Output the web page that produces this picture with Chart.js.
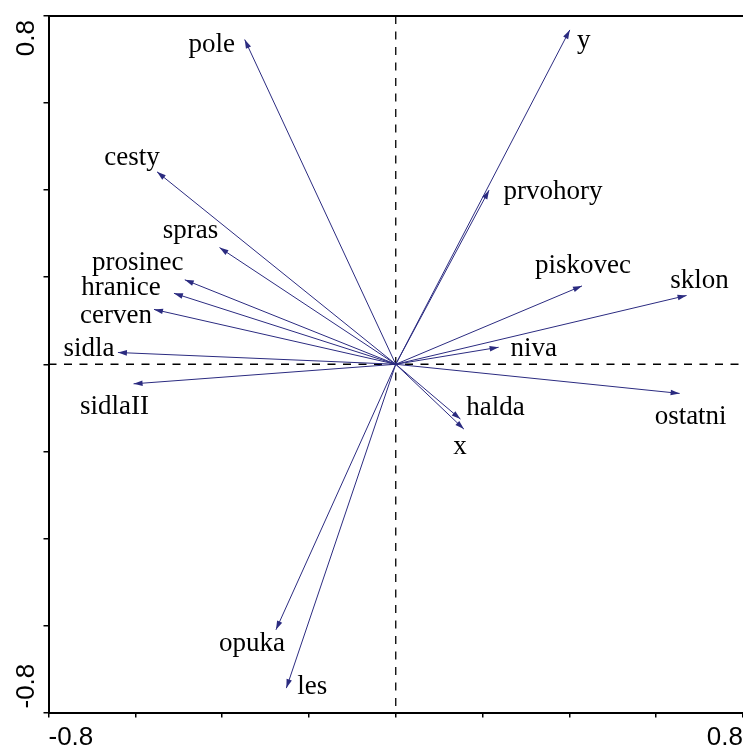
<!DOCTYPE html>
<html>
<head>
<meta charset="utf-8">
<script src="https://cdn.jsdelivr.net/npm/chart.js@4.4.0/dist/chart.umd.min.js"></script>
<style>
  html, body { margin: 0; padding: 0; background: #fff; }
  canvas { display: block; }
</style>
</head>
<body>
<canvas id="biplot" width="743" height="746"></canvas>
<script>
// variable names and their scores on the two ordination axes
const varNames = ['pole', 'cesty', 'spras', 'prosinec', 'hranice', 'cerven', 'sidla', 'sidlaII', 'opuka',
    'les', 'y', 'prvohory', 'piskovec', 'sklon', 'niva', 'ostatni', 'halda', 'x'];
const axis1 = [-0.348, -0.550, -0.406, -0.486, -0.511, -0.557, -0.640, -0.604, -0.276,
    -0.252, 0.401, 0.215, 0.429, 0.670, 0.237, 0.654, 0.149, 0.157];
const axis2 = [0.746, 0.442, 0.268, 0.194, 0.163, 0.126, 0.027, -0.045, -0.610,
    -0.744, 0.768, 0.400, 0.180, 0.158, 0.039, -0.067, -0.126, -0.149];
const tickValues = [-0.8, -0.6, -0.4, -0.2, 0, 0.2, 0.4, 0.6, 0.8];
const tickLabels = ['-0.8', '0.8']; // only the two ends carry a label

const arrowColor = '#2b2b80';

// where each name sits relative to its arrow tip (pixels)
const labelOffset = {
    pole: [-33, 5], cesty: [-25, -14], spras: [-29, -17], prosinec: [-47, -17],
    hranice: [-53, -5], cerven: [-38, 7], sidla: [-29, -4], sidlaII: [-19, 23],
    opuka: [-24, 14], les: [26, -1], y: [14, 11], prvohory: [64, 2],
    piskovec: [1, -20], sklon: [13, -15], niva: [35, 2], ostatni: [11, 23],
    halda: [35, -11], x: [-4, 18]
};

const datasets = varNames.map((name, i) => ({
    label: name,
    data: [{ x: 0, y: 0 }, { x: axis1[i], y: axis2[i] }],
    showLine: true,
    borderColor: arrowColor,
    borderWidth: 1,
    pointRadius: 0,
    fill: false
}));

const biplotDecor = {
    id: 'biplotDecor',
    beforeDatasetsDraw(chart) {
        const { ctx, chartArea, scales } = chart;
        const x0 = scales.x.getPixelForValue(0);
        const y0 = scales.y.getPixelForValue(0);
        ctx.save();
        ctx.strokeStyle = '#000';
        ctx.lineWidth = 1.3;
        ctx.setLineDash([8, 7.5]);
        ctx.beginPath();
        ctx.moveTo(chartArea.left, y0);
        ctx.lineTo(chartArea.right, y0);
        ctx.moveTo(x0, chartArea.top);
        ctx.lineTo(x0, chartArea.bottom);
        ctx.stroke();
        ctx.restore();
    },
    afterDatasetsDraw(chart) {
        const ctx = chart.ctx;
        ctx.save();
        chart.data.datasets.forEach((ds, i) => {
            const pts = chart.getDatasetMeta(i).data;
            const p0 = pts[0], p1 = pts[1];
            const ang = Math.atan2(p1.y - p0.y, p1.x - p0.x);
            // arrow head
            ctx.fillStyle = arrowColor;
            ctx.beginPath();
            ctx.moveTo(p1.x, p1.y);
            ctx.lineTo(p1.x - 9 * Math.cos(ang) + 2.8 * Math.sin(ang), p1.y - 9 * Math.sin(ang) - 2.8 * Math.cos(ang));
            ctx.lineTo(p1.x - 9 * Math.cos(ang) - 2.8 * Math.sin(ang), p1.y - 9 * Math.sin(ang) + 2.8 * Math.cos(ang));
            ctx.closePath();
            ctx.fill();
            // name
            const off = labelOffset[ds.label] || [0, 0];
            ctx.fillStyle = '#000';
            ctx.font = '27px "Liberation Serif", "Times New Roman", serif';
            ctx.textAlign = 'center';
            ctx.textBaseline = 'middle';
            ctx.fillText(ds.label, p1.x + off[0], p1.y + off[1]);
        });
        ctx.restore();
    },
    afterDraw(chart) {
        const { ctx, chartArea, scales } = chart;
        ctx.save();
        // top frame line
        ctx.strokeStyle = '#000';
        ctx.lineWidth = 2;
        ctx.beginPath();
        ctx.moveTo(chartArea.left, chartArea.top);
        ctx.lineTo(chartArea.right, chartArea.top);
        ctx.stroke();

        ctx.fillStyle = '#000';
        ctx.font = '26px "Liberation Sans", Arial, sans-serif';
        ctx.textBaseline = 'alphabetic';
        const first = tickValues[0], last = tickValues[tickValues.length - 1];
        // x axis end labels
        ctx.textAlign = 'left';
        ctx.fillText(tickLabels[0], scales.x.getPixelForValue(first), 745);
        ctx.textAlign = 'right';
        ctx.fillText(tickLabels[1], scales.x.getPixelForValue(last), 745);
        // y axis end labels, rotated
        ctx.save();
        ctx.translate(34, scales.y.getPixelForValue(first) - 4);
        ctx.rotate(-Math.PI / 2);
        ctx.textAlign = 'left';
        ctx.fillText(tickLabels[0], 0, 0);
        ctx.restore();
        ctx.save();
        ctx.translate(34, scales.y.getPixelForValue(last) + 4);
        ctx.rotate(-Math.PI / 2);
        ctx.textAlign = 'right';
        ctx.fillText(tickLabels[1], 0, 0);
        ctx.restore();
        ctx.restore();
    }
};

function axisOptions(fitFn) {
    return {
        type: 'linear',
        min: tickValues[0],
        max: tickValues[tickValues.length - 1],
        afterBuildTicks: scale => { scale.ticks = tickValues.map(v => ({ value: v })); },
        afterFit: fitFn,
        ticks: { display: false },
        grid: { display: true, drawOnChartArea: false, drawTicks: true, tickLength: 5, color: '#000', lineWidth: 1.5 },
        border: { display: true, color: '#000', width: 2 }
    };
}

new Chart(document.getElementById('biplot'), {
    type: 'scatter',
    data: { datasets: datasets },
    options: {
        responsive: false,
        animation: false,
        devicePixelRatio: 1,
        layout: { padding: { top: 16, left: 0, right: 0, bottom: 0 } },
        plugins: { legend: { display: false }, tooltip: { enabled: false } },
        scales: {
            x: axisOptions(s => { s.height = 33.5; }),
            y: axisOptions(s => { s.width = 48.5; })
        }
    },
    plugins: [biplotDecor]
});
</script>
</body>
</html>
